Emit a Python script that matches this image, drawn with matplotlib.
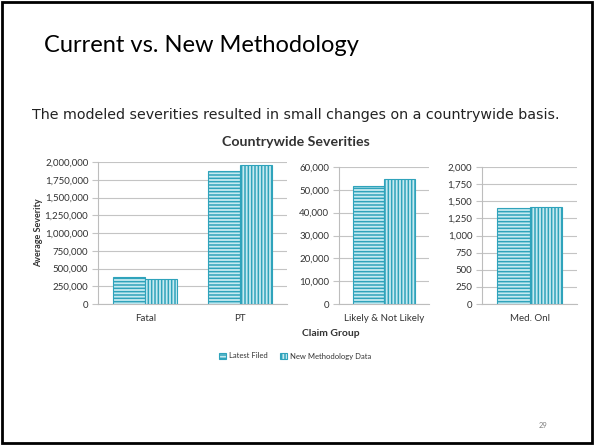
import matplotlib
matplotlib.use("Agg")
from matplotlib import pyplot as plt
from matplotlib.patches import Rectangle
from matplotlib.ticker import FuncFormatter

# data
series = ["Latest Filed", "New Methodology Data"]
panel1_cats = ["Fatal", "PT"]
panel1_latest = [380000, 1875000]
panel1_new = [350000, 1960000]
panel2_cats = ["Likely & Not Likely"]
panel2_latest = [51800]
panel2_new = [54700]
panel3_cats = ["Med. Onl"]
panel3_latest = [1400]
panel3_new = [1410]

W, H = 594, 445
fill = "#c6eaf1"
edge = "#2fa3bb"

plt.rcParams["hatch.color"] = edge
plt.rcParams["hatch.linewidth"] = 1.1

fig = plt.figure(figsize=(W / 100, H / 100), dpi=100)
fig.patch.set_facecolor("white")


def px_axes(left, top, right, bottom):
    return fig.add_axes([left / W, 1 - bottom / H, (right - left) / W, (bottom - top) / H])


def draw_panel(ax, cats, latest, new, ymax, step):
    x = list(range(len(cats)))
    w = 0.34
    b1 = ax.bar([i - w / 2 for i in x], latest, w, color=fill, edgecolor=edge,
                hatch="-----", linewidth=0.8, zorder=3)
    b2 = ax.bar([i + w / 2 for i in x], new, w, color=fill, edgecolor=edge,
                hatch="|||||", linewidth=0.8, zorder=3)
    ax.set_xlim(-0.5, len(cats) - 0.5)
    ax.set_ylim(0, ymax)
    ax.set_yticks(range(0, ymax + 1, step))
    ax.yaxis.set_major_formatter(FuncFormatter(lambda v, p: f"{int(v):,}"))
    ax.set_xticks(x)
    ax.set_xticklabels(cats)
    ax.grid(axis="y", color="#c4c4c4", linewidth=0.8, zorder=0)
    for s in ["top", "right"]:
        ax.spines[s].set_visible(False)
    for s in ["left", "bottom"]:
        ax.spines[s].set_color("#bdbdbd")
        ax.spines[s].set_linewidth(0.8)
    ax.tick_params(axis="y", length=4, color="#c4c4c4", labelsize=7, labelcolor="#333333", pad=3)
    ax.tick_params(axis="x", length=0, labelsize=7, labelcolor="#333333", pad=7)
    for t in ax.get_xticklabels() + ax.get_yticklabels():
        t.set_family("Lato")
    return b1, b2


ax1 = px_axes(98, 162, 287, 304)
bars = draw_panel(ax1, panel1_cats, panel1_latest, panel1_new, 2000000, 250000)
ax1.set_ylabel("Average Severity", fontsize=6.5, fontweight="bold", color="#333333",
               family="Lato", labelpad=1)

ax2 = px_axes(339, 167, 429, 304)
draw_panel(ax2, panel2_cats, panel2_latest, panel2_new, 60000, 10000)

ax3 = px_axes(482, 167, 577, 304)
draw_panel(ax3, panel3_cats, panel3_latest, panel3_new, 2000, 250)

# slide text
fig.text(44 / W, 1 - 45 / H, "Current vs. New Methodology", fontsize=17, family="Lato",
         va="center", ha="left", color="black")
fig.text(32 / W, 1 - 115 / H, "The modeled severities resulted in small changes on a countrywide basis.",
         fontsize=10.3, family="DejaVu Sans", va="center", ha="left", color="#222222")
fig.text(296 / W, 1 - 142 / H, "Countrywide Severities", fontsize=10.2, fontweight="bold",
         family="Lato", va="center", ha="center", color="#333333")
fig.text(331 / W, 1 - 334 / H, "Claim Group", fontsize=7.5, fontweight="bold",
         family="Lato", va="center", ha="center", color="#333333")
fig.legend(bars, series, loc="center", bbox_to_anchor=(295 / W, 1 - 356 / H), ncol=2,
           frameon=False, prop={"family": "Lato", "size": 5.5}, handlelength=0.9,
           handleheight=0.9, columnspacing=1.6, handletextpad=0.4, labelcolor="#333333")
fig.text(543 / W, 1 - 425 / H, "29", fontsize=5.5, family="Lato", va="center",
         ha="center", color="#808080")

# slide frame
fig.patches.append(Rectangle((2 / W, 2 / H), (W - 4) / W, (H - 4) / H, transform=fig.transFigure,
                             fill=False, edgecolor="black", linewidth=2))

fig.savefig("out.png", dpi=100)
